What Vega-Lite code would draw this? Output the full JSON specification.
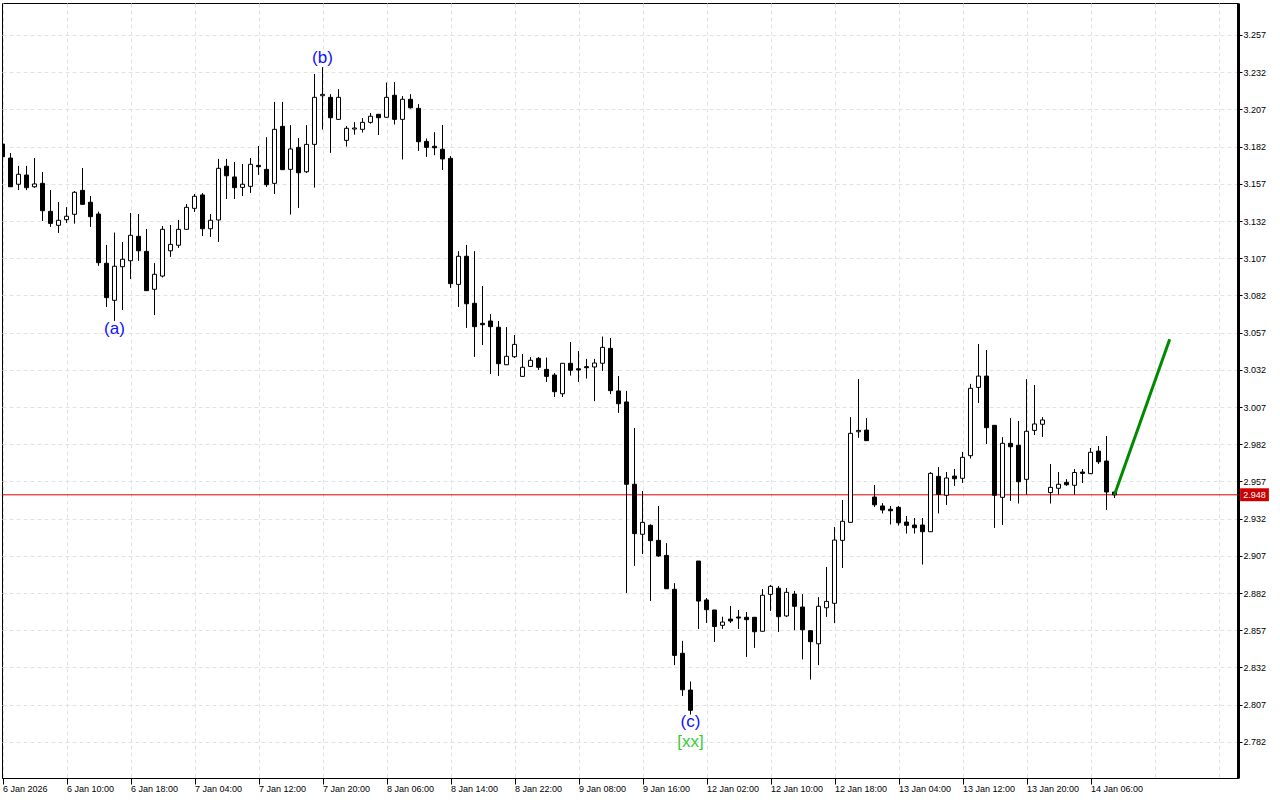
{
  "$schema": "https://vega.github.io/schema/vega-lite/v6.json",
  "width": 1236,
  "height": 775,
  "autosize": {"type": "none"},
  "padding": {"left": 2, "top": 3, "right": 42, "bottom": 22},
  "background": "white",
  "config": {"view": {"stroke": "black", "strokeWidth": 1}, "font": "Liberation Sans"},
  "datasets": {
    "candles": [
      {"i":0,"o":3.1837,"h":3.1844,"l":3.1743,"c":3.1752},
      {"i":1,"o":3.1743,"h":3.1775,"l":3.1550,"c":3.1550},
      {"i":2,"o":3.1567,"h":3.1690,"l":3.1528,"c":3.1634},
      {"i":3,"o":3.1629,"h":3.1690,"l":3.1528,"c":3.1544},
      {"i":4,"o":3.1550,"h":3.1743,"l":3.1544,"c":3.1569},
      {"i":5,"o":3.1573,"h":3.1647,"l":3.1320,"c":3.1389},
      {"i":6,"o":3.1385,"h":3.1528,"l":3.1282,"c":3.1304},
      {"i":7,"o":3.1291,"h":3.1446,"l":3.1241,"c":3.1325},
      {"i":8,"o":3.1329,"h":3.1412,"l":3.1309,"c":3.1352},
      {"i":9,"o":3.1365,"h":3.1520,"l":3.1304,"c":3.1513},
      {"i":10,"o":3.1526,"h":3.1676,"l":3.1432,"c":3.1432},
      {"i":11,"o":3.1446,"h":3.1488,"l":3.1282,"c":3.1349},
      {"i":12,"o":3.1367,"h":3.1382,"l":3.1020,"c":3.1040},
      {"i":13,"o":3.1036,"h":3.1159,"l":3.0744,"c":3.0805},
      {"i":14,"o":3.0787,"h":3.1241,"l":3.0650,"c":3.1016},
      {"i":15,"o":3.1013,"h":3.1179,"l":3.0722,"c":3.1063},
      {"i":16,"o":3.1053,"h":3.1374,"l":3.0930,"c":3.1224},
      {"i":17,"o":3.1217,"h":3.1367,"l":3.1053,"c":3.1120},
      {"i":18,"o":3.1116,"h":3.1266,"l":3.0852,"c":3.0852},
      {"i":19,"o":3.0861,"h":3.1036,"l":3.0688,"c":3.0962},
      {"i":20,"o":3.0950,"h":3.1286,"l":3.0942,"c":3.1264},
      {"i":21,"o":3.1120,"h":3.1293,"l":3.1080,"c":3.1163},
      {"i":22,"o":3.1157,"h":3.1327,"l":3.1141,"c":3.1264},
      {"i":23,"o":3.1264,"h":3.1432,"l":3.1264,"c":3.1412},
      {"i":24,"o":3.1405,"h":3.1501,"l":3.1382,"c":3.1486},
      {"i":25,"o":3.1495,"h":3.1506,"l":3.1221,"c":3.1268},
      {"i":26,"o":3.1268,"h":3.1367,"l":3.1214,"c":3.1325},
      {"i":27,"o":3.1327,"h":3.1737,"l":3.1181,"c":3.1674},
      {"i":28,"o":3.1688,"h":3.1737,"l":3.1468,"c":3.1624},
      {"i":29,"o":3.1616,"h":3.1716,"l":3.1468,"c":3.1544},
      {"i":30,"o":3.1546,"h":3.1703,"l":3.1490,"c":3.1567},
      {"i":31,"o":3.1553,"h":3.1743,"l":3.1510,"c":3.1701},
      {"i":32,"o":3.1694,"h":3.1824,"l":3.1631,"c":3.1685},
      {"i":33,"o":3.1667,"h":3.1882,"l":3.1550,"c":3.1564},
      {"i":34,"o":3.1573,"h":3.2120,"l":3.1503,"c":3.1936},
      {"i":35,"o":3.1956,"h":3.2120,"l":3.1665,"c":3.1665},
      {"i":36,"o":3.1667,"h":3.1963,"l":3.1365,"c":3.1804},
      {"i":37,"o":3.1815,"h":3.1876,"l":3.1409,"c":3.1644},
      {"i":38,"o":3.1651,"h":3.1963,"l":3.1644,"c":3.1835},
      {"i":39,"o":3.1835,"h":3.2308,"l":3.1546,"c":3.2151},
      {"i":40,"o":3.2162,"h":3.2353,"l":3.1936,"c":3.2171},
      {"i":41,"o":3.2151,"h":3.2171,"l":3.1779,"c":3.2014},
      {"i":42,"o":3.2003,"h":3.2205,"l":3.2003,"c":3.2151},
      {"i":43,"o":3.1862,"h":3.1956,"l":3.1822,"c":3.1943},
      {"i":44,"o":3.1938,"h":3.1983,"l":3.1902,"c":3.1945},
      {"i":45,"o":3.1936,"h":3.2010,"l":3.1916,"c":3.1983},
      {"i":46,"o":3.1983,"h":3.2046,"l":3.1976,"c":3.2024},
      {"i":47,"o":3.2037,"h":3.2037,"l":3.1898,"c":3.2014},
      {"i":48,"o":3.2017,"h":3.2249,"l":3.2017,"c":3.2151},
      {"i":49,"o":3.2165,"h":3.2252,"l":3.1970,"c":3.2003},
      {"i":50,"o":3.2003,"h":3.2158,"l":3.1735,"c":3.2138},
      {"i":51,"o":3.2138,"h":3.2171,"l":3.2077,"c":3.2081},
      {"i":52,"o":3.2077,"h":3.2104,"l":3.1792,"c":3.1853},
      {"i":53,"o":3.1855,"h":3.1873,"l":3.1752,"c":3.1815},
      {"i":54,"o":3.1822,"h":3.1915,"l":3.1763,"c":3.1812},
      {"i":55,"o":3.1802,"h":3.1965,"l":3.1663,"c":3.1737},
      {"i":56,"o":3.1741,"h":3.1755,"l":3.0872,"c":3.0899},
      {"i":57,"o":3.0894,"h":3.1116,"l":3.0744,"c":3.1083},
      {"i":58,"o":3.1083,"h":3.1159,"l":3.0603,"c":3.0764},
      {"i":59,"o":3.0767,"h":3.1116,"l":3.0408,"c":3.0610},
      {"i":60,"o":3.0632,"h":3.0883,"l":3.0487,"c":3.0623},
      {"i":61,"o":3.0648,"h":3.0693,"l":3.0292,"c":3.0610},
      {"i":62,"o":3.0606,"h":3.0648,"l":3.0280,"c":3.0361},
      {"i":63,"o":3.0354,"h":3.0606,"l":3.0354,"c":3.0411},
      {"i":64,"o":3.0408,"h":3.0554,"l":3.0401,"c":3.0491},
      {"i":65,"o":3.0276,"h":3.0426,"l":3.0276,"c":3.0337},
      {"i":66,"o":3.0343,"h":3.0406,"l":3.0343,"c":3.0384},
      {"i":67,"o":3.0397,"h":3.0406,"l":3.0321,"c":3.0337},
      {"i":68,"o":3.0323,"h":3.0401,"l":3.0240,"c":3.0276},
      {"i":69,"o":3.0285,"h":3.0296,"l":3.0139,"c":3.0173},
      {"i":70,"o":3.0159,"h":3.0364,"l":3.0139,"c":3.0364},
      {"i":71,"o":3.0364,"h":3.0507,"l":3.0283,"c":3.0317},
      {"i":72,"o":3.0327,"h":3.0446,"l":3.0240,"c":3.0319},
      {"i":73,"o":3.0341,"h":3.0393,"l":3.0263,"c":3.0334},
      {"i":74,"o":3.0339,"h":3.0393,"l":3.0110,"c":3.0366},
      {"i":75,"o":3.0364,"h":3.0542,"l":3.0314,"c":3.0471},
      {"i":76,"o":3.0464,"h":3.0534,"l":3.0157,"c":3.0180},
      {"i":77,"o":3.0178,"h":3.0278,"l":3.0032,"c":3.0092},
      {"i":78,"o":3.0104,"h":3.0178,"l":2.8822,"c":2.9551},
      {"i":79,"o":2.9551,"h":2.9927,"l":2.9004,"c":2.9219},
      {"i":80,"o":2.9215,"h":2.9504,"l":2.9084,"c":2.9295},
      {"i":81,"o":2.9275,"h":2.9280,"l":2.8768,"c":2.9172},
      {"i":82,"o":2.9174,"h":2.9405,"l":2.9064,"c":2.9069},
      {"i":83,"o":2.9073,"h":2.9154,"l":2.8849,"c":2.8849},
      {"i":84,"o":2.8845,"h":2.8885,"l":2.8336,"c":2.8401},
      {"i":85,"o":2.8415,"h":2.8498,"l":2.8130,"c":2.8170},
      {"i":86,"o":2.8168,"h":2.8224,"l":2.8005,"c":2.8032},
      {"i":87,"o":2.9035,"h":2.9035,"l":2.8578,"c":2.8766},
      {"i":88,"o":2.8773,"h":2.8786,"l":2.8620,"c":2.8708},
      {"i":89,"o":2.8706,"h":2.8706,"l":2.8493,"c":2.8595},
      {"i":90,"o":2.8603,"h":2.8660,"l":2.8580,"c":2.8625},
      {"i":91,"o":2.8645,"h":2.8733,"l":2.8620,"c":2.8632},
      {"i":92,"o":2.8659,"h":2.8706,"l":2.8578,"c":2.8652},
      {"i":93,"o":2.8657,"h":2.8692,"l":2.8392,"c":2.8641},
      {"i":94,"o":2.8657,"h":2.8657,"l":2.8453,"c":2.8560},
      {"i":95,"o":2.8563,"h":2.8845,"l":2.8563,"c":2.8805},
      {"i":96,"o":2.8811,"h":2.8874,"l":2.8701,"c":2.8865},
      {"i":97,"o":2.8852,"h":2.8865,"l":2.8560,"c":2.8661},
      {"i":98,"o":2.8666,"h":2.8852,"l":2.8661,"c":2.8825},
      {"i":99,"o":2.8813,"h":2.8834,"l":2.8571,"c":2.8731},
      {"i":100,"o":2.8726,"h":2.8811,"l":2.8375,"c":2.8573},
      {"i":101,"o":2.8567,"h":2.8567,"l":2.8240,"c":2.8493},
      {"i":102,"o":2.8479,"h":2.8791,"l":2.8336,"c":2.8731},
      {"i":103,"o":2.8721,"h":2.8995,"l":2.8661,"c":2.8764},
      {"i":104,"o":2.8751,"h":2.9262,"l":2.8618,"c":2.9176},
      {"i":105,"o":2.9174,"h":2.9443,"l":2.8988,"c":2.9302},
      {"i":106,"o":2.9295,"h":3.0001,"l":2.9295,"c":2.9893},
      {"i":107,"o":2.9904,"h":3.0258,"l":2.9864,"c":2.9913},
      {"i":108,"o":2.9915,"h":2.9994,"l":2.9844,"c":2.9844},
      {"i":109,"o":2.9465,"h":2.9546,"l":2.9400,"c":2.9413},
      {"i":110,"o":2.9405,"h":2.9423,"l":2.9356,"c":2.9378},
      {"i":111,"o":2.9383,"h":2.9405,"l":2.9282,"c":2.9373},
      {"i":112,"o":2.9396,"h":2.9405,"l":2.9275,"c":2.9292},
      {"i":113,"o":2.9297,"h":2.9337,"l":2.9221,"c":2.9275},
      {"i":114,"o":2.9277,"h":2.9322,"l":2.9221,"c":2.9259},
      {"i":115,"o":2.9277,"h":2.9322,"l":2.9013,"c":2.9232},
      {"i":116,"o":2.9232,"h":2.9631,"l":2.9232,"c":2.9624},
      {"i":117,"o":2.9604,"h":2.9667,"l":2.9356,"c":2.9483},
      {"i":118,"o":2.9477,"h":2.9633,"l":2.9413,"c":2.9593},
      {"i":119,"o":2.9606,"h":2.9653,"l":2.9541,"c":2.9588},
      {"i":120,"o":2.9591,"h":2.9768,"l":2.9561,"c":2.9732},
      {"i":121,"o":2.9743,"h":3.0225,"l":2.9725,"c":3.0196},
      {"i":122,"o":3.0202,"h":3.0493,"l":3.0099,"c":3.0278},
      {"i":123,"o":3.0278,"h":3.0453,"l":2.9823,"c":2.9931},
      {"i":124,"o":2.9947,"h":2.9947,"l":2.9259,"c":2.9477},
      {"i":125,"o":2.9463,"h":2.9866,"l":2.9277,"c":2.9826},
      {"i":126,"o":2.9826,"h":2.9994,"l":2.9440,"c":2.9803},
      {"i":127,"o":2.9813,"h":2.9976,"l":2.9423,"c":2.9568},
      {"i":128,"o":2.9584,"h":3.0256,"l":2.9483,"c":2.9907},
      {"i":129,"o":2.9913,"h":3.0218,"l":2.9882,"c":2.9956},
      {"i":130,"o":2.9954,"h":3.0001,"l":2.9870,"c":2.9983},
      {"i":131,"o":2.9495,"h":2.9686,"l":2.9423,"c":2.9530},
      {"i":132,"o":2.9524,"h":2.9633,"l":2.9483,"c":2.9551},
      {"i":133,"o":2.9564,"h":2.9584,"l":2.9541,"c":2.9548},
      {"i":134,"o":2.9544,"h":2.9652,"l":2.9483,"c":2.9630},
      {"i":135,"o":2.9633,"h":2.9653,"l":2.9561,"c":2.9624},
      {"i":136,"o":2.9622,"h":2.9794,"l":2.9622,"c":2.9766},
      {"i":137,"o":2.9774,"h":2.9808,"l":2.9689,"c":2.9702},
      {"i":138,"o":2.9707,"h":2.9875,"l":2.9380,"c":2.9499},
      {"i":139,"o":2.9499,"h":2.9499,"l":2.9460,"c":2.9480}
    ],
    "forecast": [
      {"i":139,"p":2.948},
      {"i":145.9,"p":3.0525}
    ],
    "notes": [
      {"i":14,"p":3.0594,"label":"(a)"},
      {"i":40,"p":3.2415,"label":"(b)"},
      {"i":86,"p":2.7953,"label":"(c)"},
      {"i":86,"p":2.7819,"label":"[xx]"}
    ],
    "last": [
      {"price":2.948}
    ]
  },
  "layer": [
    {
      "data": {"name": "candles"},
      "mark": {"type": "rule", "color": "black", "strokeWidth": 1, "clip": true},
      "encoding": {
        "x": {
          "field": "i", "type": "quantitative",
          "scale": {"domain": [0.5625, 153.8125], "nice": false, "zero": false},
          "axis": {
            "title": null,
            "values": [0,4,8,12,16,20,24,28,32,36,40,44,48,52,56,60,64,68,72,76,80,84,88,92,96,100,104,108,112,116,120,124,128,132,136,140,144,148,152],
            "grid": true, "gridColor": "#e2e2e2", "gridDash": [4, 3], "gridWidth": 1,
            "domain": true, "domainColor": "black", "domainWidth": 1,
            "tickSize": 6, "tickColor": "black",
            "tickOpacity": {"condition": {"test": "datum.value % 8 === 0 && datum.value < 140", "value": 1}, "value": 0},
            "labelExpr": "datum.value % 8 === 0 ? (['6 Jan 2026','6 Jan 10:00','6 Jan 18:00','7 Jan 04:00','7 Jan 12:00','7 Jan 20:00','8 Jan 06:00','8 Jan 14:00','8 Jan 22:00','9 Jan 08:00','9 Jan 16:00','12 Jan 02:00','12 Jan 10:00','12 Jan 18:00','13 Jan 04:00','13 Jan 12:00','13 Jan 20:00','14 Jan 06:00'][datum.value / 8] || '') : ''",
            "labelAlign": "left", "labelBaseline": "top", "labelPadding": 0,
            "labelFontSize": 9, "labelColor": "black", "labelFont": "Liberation Sans",
            "labelOverlap": false, "labelFlush": false, "labelBound": false
          }
        },
        "y": {
          "field": "l", "type": "quantitative",
          "scale": {"domain": [2.7577, 3.2785], "nice": false, "zero": false},
          "axis": {
            "title": null, "orient": "right",
            "values": [2.782,2.807,2.832,2.857,2.882,2.907,2.932,2.957,2.982,3.007,3.032,3.057,3.082,3.107,3.132,3.157,3.182,3.207,3.232,3.257],
            "format": ".3f",
            "grid": true, "gridColor": "#e2e2e2", "gridDash": [4, 3], "gridWidth": 1,
            "domain": true, "domainColor": "black", "domainWidth": 3,
            "tickSize": 4, "tickColor": "black",
            "labelFontSize": 9, "labelColor": "black", "labelFont": "Liberation Sans",
            "labelPadding": 1, "labelBaseline": "middle",
            "labelOverlap": false, "labelFlush": false, "labelBound": false
          }
        },
        "y2": {"field": "h"}
      }
    },
    {
      "data": {"name": "last"},
      "mark": {"type": "rule", "color": "#d80000", "strokeWidth": 1},
      "encoding": {
        "y": {"field": "price", "type": "quantitative", "scale": {"domain": [2.7577, 3.2785], "nice": false, "zero": false}}
      }
    },
    {
      "data": {"name": "candles"},
      "mark": {"type": "rule", "color": "black", "strokeWidth": 1, "clip": true},
      "encoding": {
        "x": {"field": "i", "type": "quantitative", "scale": {"domain": [0.5625, 153.8125], "nice": false, "zero": false}},
        "y": {"field": "l", "type": "quantitative", "scale": {"domain": [2.7577, 3.2785], "nice": false, "zero": false}},
        "y2": {"field": "h"}
      }
    },
    {
      "data": {"name": "candles"},
      "mark": {"type": "bar", "orient": "vertical", "size": 4, "stroke": "black", "strokeWidth": 1, "clip": true},
      "encoding": {
        "x": {"field": "i", "type": "quantitative", "scale": {"domain": [0.5625, 153.8125], "nice": false, "zero": false}},
        "y": {"field": "o", "type": "quantitative", "scale": {"domain": [2.7577, 3.2785], "nice": false, "zero": false}},
        "y2": {"field": "c"},
        "fill": {"condition": {"test": "datum.c < datum.o", "value": "black"}, "value": "white"}
      }
    },
    {
      "data": {"name": "forecast"},
      "mark": {"type": "line", "color": "#008a00", "strokeWidth": 3, "clip": true},
      "encoding": {
        "x": {"field": "i", "type": "quantitative", "scale": {"domain": [0.5625, 153.8125], "nice": false, "zero": false}},
        "y": {"field": "p", "type": "quantitative", "scale": {"domain": [2.7577, 3.2785], "nice": false, "zero": false}}
      }
    },
    {
      "data": {"name": "notes"},
      "mark": {"type": "text", "fontSize": 17, "font": "Liberation Sans", "align": "center", "baseline": "middle"},
      "encoding": {
        "x": {"field": "i", "type": "quantitative", "scale": {"domain": [0.5625, 153.8125], "nice": false, "zero": false}},
        "y": {"field": "p", "type": "quantitative", "scale": {"domain": [2.7577, 3.2785], "nice": false, "zero": false}},
        "text": {"field": "label", "type": "nominal"},
        "color": {"condition": {"test": "datum.label === '[xx]'", "value": "#3cc83c"}, "value": "#1010ff"}
      }
    },
    {
      "data": {"name": "last"},
      "mark": {"type": "rect", "color": "#cc0000", "clip": false},
      "encoding": {
        "x": {"datum": 154.7, "type": "quantitative", "scale": {"domain": [0.5625, 153.8125], "nice": false, "zero": false}},
        "x2": {"datum": 158.3},
        "y": {"datum": 2.9524, "type": "quantitative", "scale": {"domain": [2.7577, 3.2785], "nice": false, "zero": false}},
        "y2": {"datum": 2.9437}
      }
    },
    {
      "data": {"name": "last"},
      "mark": {"type": "text", "color": "white", "fontSize": 9, "font": "Liberation Sans", "align": "center", "baseline": "middle", "clip": false},
      "encoding": {
        "x": {"datum": 156.5, "type": "quantitative", "scale": {"domain": [0.5625, 153.8125], "nice": false, "zero": false}},
        "y": {"field": "price", "type": "quantitative", "scale": {"domain": [2.7577, 3.2785], "nice": false, "zero": false}},
        "text": {"field": "price", "type": "quantitative", "format": ".3f"}
      }
    }
  ]
}
